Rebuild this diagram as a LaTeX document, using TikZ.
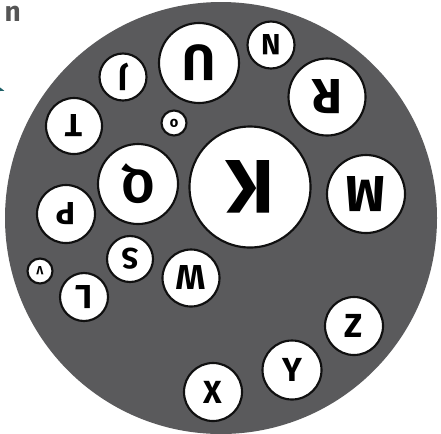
\documentclass[tikz,border=0pt]{standalone}
\usepackage{fontspec}
\setmainfont{Fira Sans}
\usepackage{tikz}
\usetikzlibrary{arrows.meta}
\definecolor{ch-disk}{HTML}{5A5A5C}
\definecolor{ch-ring}{HTML}{101010}
\definecolor{ch-title}{HTML}{555555}
\definecolor{ch-teal}{HTML}{1F6168}

\begin{document}
\begin{tikzpicture}[
    x=0.75pt, y=-0.75pt,
    disc/.style={circle, draw=ch-ring, fill=white, line width=1.6pt, inner sep=0pt, minimum size=#1*1.5pt},
    flip/.style={rotate=180},
    glyph/.style={font=\fontsize{#1}{#1}\selectfont\bfseries, text=black}
]
\useasboundingbox (0,0) rectangle (441,433);

% ── Fragmentos da borda (título e seta cortados) ──────────────
\node[font=\fontsize{21}{21}\selectfont\bfseries, text=ch-title, inner sep=0pt, anchor=base east] (title) at (21, 21) {n};
\coordinate (tail) at (-30, 80);
\coordinate (tip) at (5, 91);
\draw[-{Latex[length=7pt, width=6pt]}, draw=ch-teal, line width=2pt] (tail) -- (tip);

% ── Disco cinzento ────────────────────────────────────────────
\node[circle, fill=ch-disk, inner sep=0pt, minimum size=324pt] (plate) at (221, 218) {};

% ── Anel superior ─────────────────────────────────────────────
\node[disc=40, glyph=38, flip] (u) at (199, 63) {U};
\node[disc=23.5, glyph=22, flip] (n) at (271, 45) {N};
\node[disc=38.5, glyph=37, flip] (r) at (327, 97) {R};
\node[disc=23.5, glyph=24, flip] (j) at (123, 77) {J};
\node[disc=28, glyph=24, flip] (t) at (74, 126) {T};
\node[disc=12.5, glyph=11, flip] (o) at (174, 123) {o};

% ── Centro ────────────────────────────────────────────────────
\node[disc=60.5, glyph=57, flip] (k) at (250, 187) {K};
\node[disc=40, glyph=35, flip] (q) at (138, 184) {Q};
\node[disc=39, glyph=38, flip] (m) at (366, 194) {M};
\node[disc=29, glyph=24, flip] (p) at (66, 214) {P};

% ── Grupo inferior esquerdo ───────────────────────────────────
\node[disc=23, glyph=22, flip] (s) at (130, 259) {S};
\node[disc=28.5, glyph=26, flip] (w) at (191, 278) {W};
\node[disc=12.5, glyph=9, flip] (v) at (40, 271) {V};
\node[disc=24, glyph=25, flip] (l) at (84, 297) {L};

% ── Arco inferior direito ─────────────────────────────────────
\node[disc=29, glyph=25] (z) at (354, 326) {Z};
\node[disc=29.5, glyph=25] (y) at (292, 370) {Y};
\node[disc=29, glyph=24] (x) at (213, 392) {X};

\end{tikzpicture}
\end{document}
